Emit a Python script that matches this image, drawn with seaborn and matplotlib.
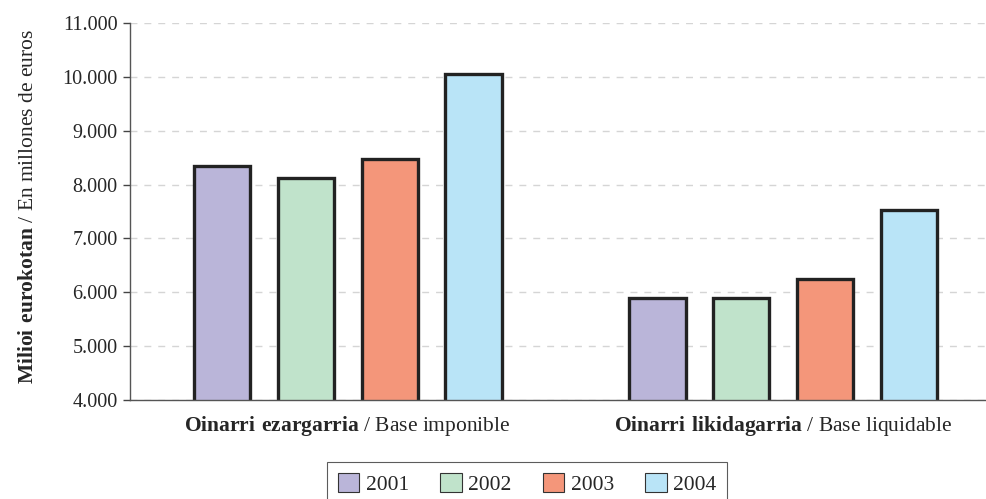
import pandas as pd
import numpy as np
import matplotlib.pyplot as plt
import seaborn as sns
from matplotlib.ticker import FuncFormatter
from matplotlib.patches import Patch

# --- Data ---
categories = [r'$\mathbf{Oinarri\ ezargarria}$ / Base imponible',
              r'$\mathbf{Oinarri\ likidagarria}$ / Base liquidable']
years = ['2001', '2002', '2003', '2004']
v2001 = [8340, 5890]
v2002 = [8130, 5890]
v2003 = [8470, 6250]
v2004 = [10045, 7525]
colors = ['#bab5d9', '#c0e3cb', '#f4967a', '#b9e4f7']

df = pd.DataFrame({
    'category': categories * 4,
    'year': np.repeat(years, 2),
    'value': v2001 + v2002 + v2003 + v2004,
})

# --- Style ---
sns.set_style('white')
plt.rcParams['font.family'] = ['Liberation Serif', 'DejaVu Serif']
plt.rcParams['mathtext.fontset'] = 'custom'
plt.rcParams['mathtext.rm'] = 'Liberation Serif'
plt.rcParams['mathtext.bf'] = 'Liberation Serif:bold'

fig = plt.figure(figsize=(9.87, 4.99), dpi=100)
ax = fig.add_axes([130 / 987, 1 - 400 / 499, 871 / 987, 377 / 499])

sns.barplot(data=df, x='category', y='value', hue='year', palette=colors,
            saturation=1, width=0.77, gap=0.33, edgecolor='#222222', linewidth=2.4,
            legend=False, ax=ax)

# --- Axes ---
ax.set_ylim(4000, 11000)
ax.set_yticks(range(4000, 11001, 1000))
ax.yaxis.set_major_formatter(FuncFormatter(lambda v, p: f'{int(v):,}'.replace(',', '.')))
ax.set_xlim(-0.5, 1.5)
ax.set_xticks([0, 1])
ax.set_xticklabels(categories)
ax.set_xticks([-0.5, 0.5, 1.5], minor=True)
ax.tick_params(axis='x', which='major', length=0, labelsize=15.5, pad=10)
ax.tick_params(axis='x', which='minor', length=6, width=1, color='#444444', direction='out')
ax.tick_params(axis='y', length=5, width=1, color='#444444', direction='out',
               labelsize=14.5, pad=4, left=True)
ax.set_xlabel('')
ax.set_ylabel(r'$\mathbf{Milioi\ eurokotan}$ / En millones de euros', fontsize=15.5)
ax.yaxis.set_label_coords(-0.106, 0.513)

ax.yaxis.grid(True, linestyle=(0, (5, 5)), color='#d5d5d5', linewidth=1)
ax.set_axisbelow(True)
sns.despine(ax=ax, top=True, right=True)
for s in ['left', 'bottom']:
    ax.spines[s].set_color('#555555')
    ax.spines[s].set_linewidth(1)

# --- Legend ---
handles = [Patch(facecolor=c, edgecolor='#333333', linewidth=0.8) for c in colors]
leg = fig.legend(handles, years, loc='lower center', bbox_to_anchor=(527 / 987, -0.035),
                 ncol=4, frameon=True, fancybox=False, fontsize=15.5,
                 handlelength=1.0, handleheight=1.0, handletextpad=0.3,
                 columnspacing=1.45, borderpad=0.5)
leg.get_frame().set_edgecolor('#333333')
leg.get_frame().set_linewidth(0.8)

plt.savefig('out.png', dpi=100)
